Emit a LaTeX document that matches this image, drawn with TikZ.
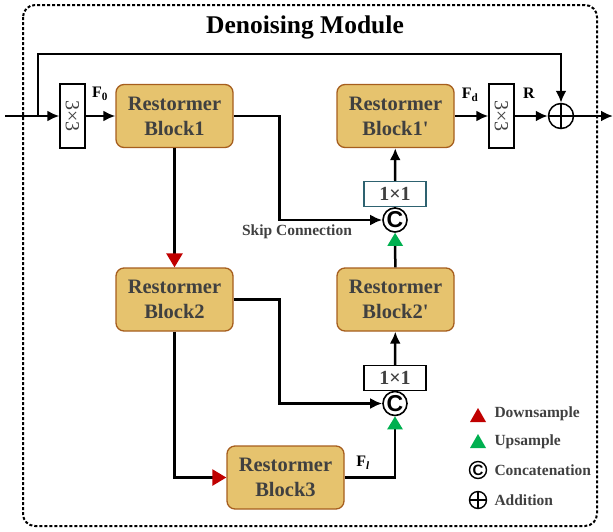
\documentclass[tikz,border=0pt]{standalone}
\usepackage{fontspec}
\usepackage{graphicx}
\setmainfont{Liberation Serif}
\newfontfamily\symfont{Liberation Sans}
\usetikzlibrary{arrows.meta}

\definecolor{blockfill}{HTML}{E6C36E}
\definecolor{blockline}{HTML}{A65E1E}
\definecolor{txtgray}{HTML}{404040}
\definecolor{convline}{HTML}{2E6270}
\definecolor{downred}{HTML}{C00000}
\definecolor{upgreen}{HTML}{00B050}

\begin{document}
\begin{tikzpicture}[x=1pt, y=-1pt,
  every node/.style={font=\bfseries},
  block/.style={draw=blockline, line width=1.3pt, fill=blockfill, rounded corners=8pt,
    align=center, minimum width=117pt, minimum height=63pt, text=txtgray,
    font=\fontsize{20.5}{25}\selectfont\bfseries},
  convk/.style={draw, line width=1.3pt, fill=white, minimum width=25pt, minimum height=64pt,
    inner sep=0pt, text=txtgray, font=\fontsize{20}{20}\selectfont},
  convp/.style={draw, line width=1.5pt, fill=white, minimum width=62pt, minimum height=25pt,
    inner sep=0pt, text=txtgray, font=\fontsize{20}{20}\selectfont\bfseries},
  catop/.style={circle, draw, line width=1.6pt, fill=white, minimum size=24pt, inner sep=0pt,
    font=\symfont\fontsize{23}{23}\selectfont\bfseries},
  addop/.style={circle, draw, line width=1.5pt, fill=white, minimum size=25pt, inner sep=0pt,
    path picture={\draw[line width=1.5pt]
      (path picture bounding box.north) -- (path picture bounding box.south)
      (path picture bounding box.west) -- (path picture bounding box.east);}},
  feat/.style={font=\fontsize{16}{16}\selectfont\bfseries},
  note/.style={text=txtgray, font=\fontsize{15.5}{16}\selectfont\bfseries},
  link/.style={line width=2.5pt},
  arr/.style={link, -{Latex[length=12pt,width=11pt]}},
  dnarr/.style={link, -{Triangle[length=14pt,width=16pt,color=downred]}},
  uparr/.style={link, -{Triangle[length=13pt,width=15pt,color=upgreen]}}]

  \useasboundingbox (0,0) rectangle (613,531);

  % module frame and title
  \draw[dash pattern=on 3pt off 2pt, line width=2pt, rounded corners=12pt] (23,5) rectangle (597,526);
  \node[font=\fontsize{25.5}{25.5}\selectfont\bfseries] (title) at (305,27) {Denoising Module};

  % encoder side
  \node[convk] (k1) at (72.5,116) {\rotatebox{-90}{3×3}};
  \node[block] (rb1) at (174.5,116) {Restormer\\Block1};
  \node[block] (rb2) at (174.5,299.5) {Restormer\\Block2};
  \node[block] (rb3) at (285.5,477.5) {Restormer\\Block3};

  % decoder side
  \node[block] (rb1p) at (395.5,116) {Restormer\\Block1\textquotesingle};
  \node[block] (rb2p) at (395.5,299.5) {Restormer\\Block2\textquotesingle};
  \node[convp, draw=convline] (conv1) at (395,194) {1×1};
  \node[convp] (conv2) at (395,378) {1×1};
  \node[catop] (cat1) at (395,220) {C};
  \node[catop] (cat2) at (395,403.5) {C};
  \node[convk] (k2) at (501.5,116) {\rotatebox{-90}{3×3}};
  \node[addop] (plus) at (561,116) {};

  \coordinate (in) at (5,116);
  \coordinate (split) at (38,116);
  \coordinate (out) at (613,116);

  % feature labels
  \node[feat] (f0) at (100,94) {F\textsubscript{0}};
  \node[feat] (fd) at (470,95) {F\textsubscript{d}};
  \node[feat] (res) at (529,93) {R};
  \node[feat] (fl) at (363,463) {F\textsubscript{\textit{l}}};
  \node[note] (skip) at (297,232) {Skip Connection};

  % main path
  \draw[arr] (in) -- (k1);
  \draw[arr] (k1) -- (rb1);
  \draw[arr] (rb1p) -- (k2);
  \draw[arr] (k2) -- (plus);
  \draw[arr] (plus) -- (out);
  \draw[arr] (split) -- ++(0,-62) -| (plus);

  % down path
  \draw[dnarr] (rb1) -- (rb2);
  \draw[dnarr] (rb2.south) |- (rb3);

  % skips and up path
  \draw[arr] (rb1.east) -- ++(46,0) |- (cat1);
  \draw[arr] (rb2.east) -- ++(46,0) |- (cat2);
  \draw[uparr] (rb3.east) -| (cat2);
  \draw[uparr] (rb2p) -- (cat1);
  \draw[link] (cat1) -- (conv1);
  \draw[link] (cat2) -- (conv2);
  \draw[arr] (conv1) -- (rb1p);
  \draw[arr] (conv2) -- (rb2p);

  % legend
  \fill[downred] (470,422) -- (486,422) -- (478,408) -- cycle;
  \fill[upgreen] (470,448) -- (486,448) -- (478,434) -- cycle;
  \node[catop, minimum size=17pt, line width=1.4pt, font=\symfont\fontsize{15}{15}\selectfont\bfseries] (lcat) at (478,470) {C};
  \node[addop, minimum size=17pt, line width=1.4pt] (ladd) at (478,500) {};
  \node[note, anchor=west] (ldown) at (491,414) {Downsample};
  \node[note, anchor=west] (lup) at (491,442) {Upsample};
  \node[note, anchor=west] (lcatt) at (491,470) {Concatenation};
  \node[note, anchor=west] (laddt) at (491,500) {Addition};
\end{tikzpicture}
\end{document}
